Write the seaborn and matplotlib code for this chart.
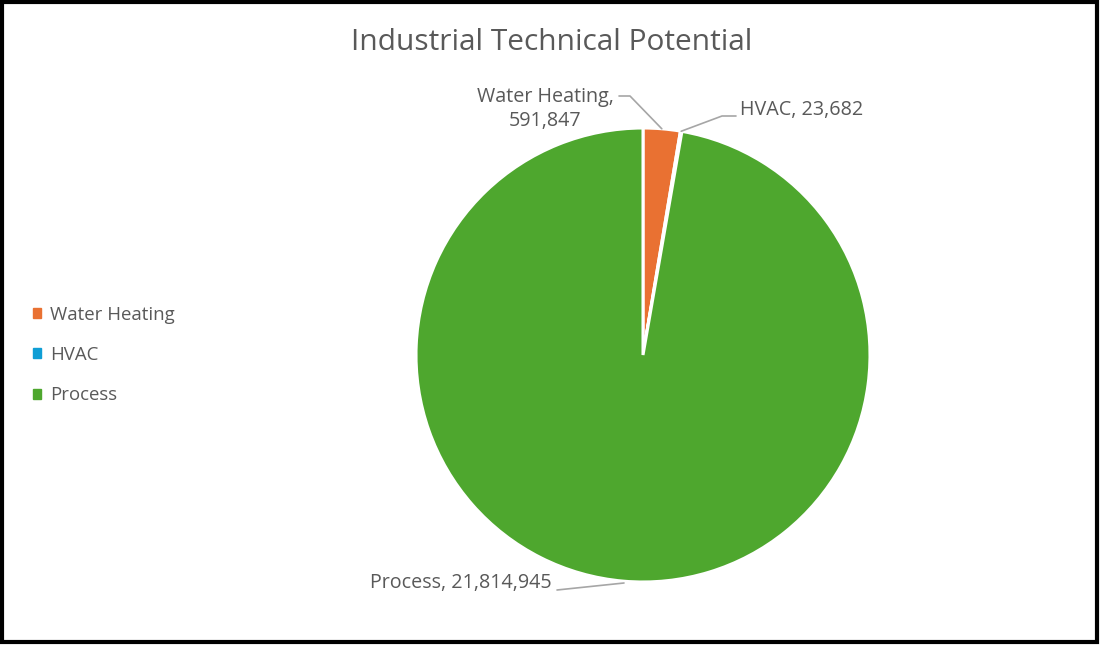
import numpy as np
import matplotlib
matplotlib.use("Agg")
import matplotlib.pyplot as plt
import matplotlib.patches as mpatches
import seaborn as sns

categories = ["Water Heating", "HVAC", "Process"]
values = [591847, 23682, 21814945]
colors = ["#E97132", "#0F9ED5", "#4EA72E"]

sns.set_theme(style="white")
plt.rcParams["font.family"] = ["Open Sans", "DejaVu Sans"]
text_color = "#595959"
line_color = "#A6A6A6"

fig = plt.figure(figsize=(11, 6.45), dpi=100)
# one data unit = pie radius = 227 px, pie centre at (643, 355) px
ax = fig.add_axes([0, 0, 1, 1])
R = 227.0

wedges, _ = ax.pie(values, colors=colors, startangle=90, counterclock=False,
                   radius=1, center=(0, 0), frame=True,
                   wedgeprops=dict(edgecolor="white", linewidth=2.2))
ax.set_xlim(-643 / R, (1100 - 643) / R)
ax.set_ylim((355 - 645) / R, 355 / R)
ax.axis("off")


def px(x, y):
    return ((x - 643) / R, (355 - y) / R)


def anchor(w):
    ang = np.deg2rad((w.theta1 + w.theta2) / 2)
    return np.cos(ang), np.sin(ang)


labels = [f"{c},\n{v:,}" if c == "Water Heating" else f"{c}, {v:,}"
          for c, v in zip(categories, values)]
fs = 14.2

# Water Heating
a = anchor(wedges[0])
p1, p2 = px(630, 96), px(619, 96)
ax.plot([a[0], p1[0], p2[0]], [a[1], p1[1], p2[1]], color=line_color, lw=1.2)
ax.text(*px(545, 109), labels[0], ha="center", va="center", fontsize=fs,
        color=text_color, linespacing=1.25)

# HVAC
a = anchor(wedges[1])
p1, p2 = px(722, 116), px(736, 116)
ax.plot([a[0], p1[0], p2[0]], [a[1], p1[1], p2[1]], color=line_color, lw=1.2)
ax.text(*px(740, 110), labels[1], ha="left", va="center", fontsize=fs,
        color=text_color)

# Process
p1, p2 = px(624, 583), px(557, 590)
ax.plot([p1[0], p2[0]], [p1[1], p2[1]], color=line_color, lw=1.2)
ax.text(*px(552, 583), labels[2], ha="right", va="center", fontsize=fs,
        color=text_color)

fig.text(552 / 1100, 1 - 42 / 645, "Industrial Technical Potential",
         ha="center", va="center", fontsize=21.5, color=text_color)

handles = [mpatches.Patch(color=c, label=l) for c, l in zip(colors, categories)]
fig.legend(handles=handles, loc="center left", bbox_to_anchor=(16 / 1100, 1 - 355 / 645),
           frameon=False, fontsize=13.4, labelcolor=text_color,
           handlelength=0.45, handleheight=0.45, handletextpad=0.5, labelspacing=1.2)

fig.patches.append(mpatches.Rectangle((0.002, 0.004), 0.995, 0.993, transform=fig.transFigure,
                                      fill=False, edgecolor="black", lw=3))

fig.savefig("out.png", dpi=100)
